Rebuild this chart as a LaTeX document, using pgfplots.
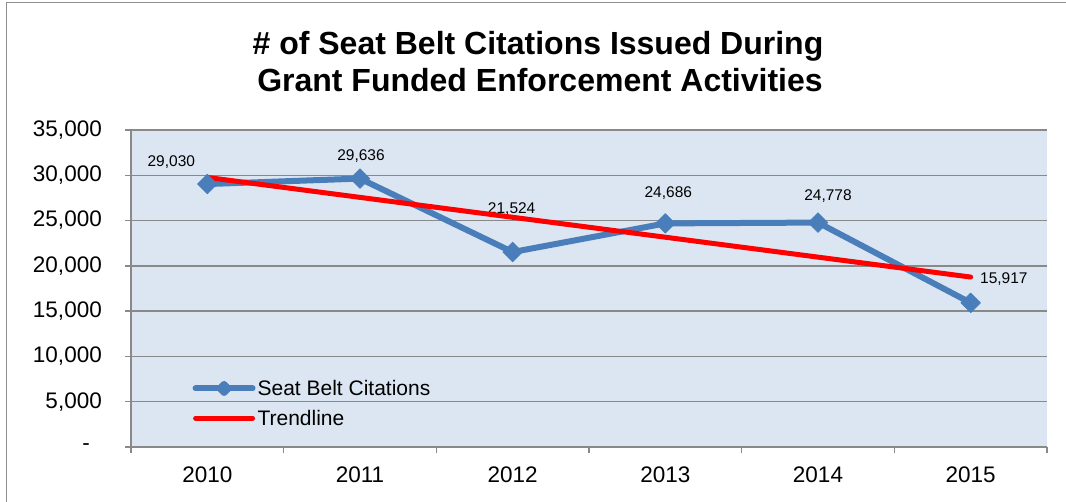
\documentclass[border=0pt]{standalone}
\usepackage{pgfplots}
\pgfplotsset{compat=1.18}
\usepackage{fontspec}
\setmainfont{Liberation Sans}

\definecolor{serblue}{HTML}{4A7EBB}
\definecolor{trendred}{HTML}{FF0000}
\definecolor{plotbg}{HTML}{DCE6F2}
\definecolor{gridgray}{HTML}{898989}
\definecolor{framegray}{HTML}{8E8E8E}

\begin{document}
\begin{tikzpicture}[x=1pt,y=1pt]
\useasboundingbox (0,0) rectangle (1066,502);
\fill[white] (0,0) rectangle (1066,502);
\draw[framegray, line width=1.5pt] (6.5,-10) -- (6.5,499.5) -- (1080,499.5);

% title
\node[anchor=base, inner sep=0pt, font=\fontsize{32}{36}\selectfont\bfseries] at (538,447)
  {\# of Seat Belt Citations Issued During};
\node[anchor=base, inner sep=0pt, font=\fontsize{32}{36}\selectfont\bfseries] at (540,410)
  {Grant Funded Enforcement Activities};

\begin{axis}[
    at={(131pt,55pt)}, anchor=south west,
    width=916pt, height=317pt, scale only axis,
    xmin=-0.5, xmax=5.5,
    ymin=0, ymax=35000,
    clip=false,
    scaled y ticks=false,
    axis x line*=bottom, axis y line*=left,
    axis line style={gridgray, line width=1.5pt},
    axis background/.style={fill=plotbg},
    ymajorgrids,
    major grid style={gridgray, line width=1.5pt},
    ytick={0,5000,10000,15000,20000,25000,30000,35000},
    yticklabels={{-\hspace*{12pt}},{5,000},{10,000},{15,000},{20,000},{25,000},{30,000},{35,000}},
    xtick={0,1,2,3,4,5},
    xticklabels={2010,2011,2012,2013,2014,2015},
    minor xtick={-0.5,0.5,1.5,2.5,3.5,4.5,5.5},
    tick align=outside,
    major tick length=6pt, minor tick length=6pt,
    every major x tick/.append style={draw=none},
    tick style={gridgray, line width=1.5pt},
    yticklabel style={anchor=east, inner sep=0pt, xshift=-23pt},
    xticklabel style={anchor=north, inner sep=0pt, yshift=-14pt},
    tick label style={font=\fontsize{22.5}{27}\selectfont, text=black},
    legend style={at={(rel axis cs:0.067,0.218)}, anchor=north west,
        draw=none, fill=none, inner sep=0pt, row sep=9pt,
        font=\fontsize{21}{25}\selectfont},
    legend cell align=left,
]

\addplot[serblue, line width=6pt, line join=round,
    mark=square*, mark size=7pt,
    mark options={solid, rotate=45, fill=serblue, draw=serblue, line width=0.5pt},
    legend image code/.code={
        \draw[serblue, line width=6pt, line cap=round] (0pt,0pt) -- (57pt,0pt);
        \fill[serblue, rotate=45] (20.15pt,-20.15pt) ++(-3.2pt,-3.2pt) rectangle ++(6.4pt,6.4pt);
    }]
coordinates {
    (0,29030) (1,29636) (2,21524) (3,24686) (4,24778) (5,15917)
};
\addlegendentry{Seat Belt Citations}

\node[font=\fontsize{15.5}{18}\selectfont, xshift=-36pt, yshift=22pt] at (axis cs:0,29030) {29,030};
\node[font=\fontsize{15.5}{18}\selectfont, xshift=1pt, yshift=22pt] at (axis cs:1,29636) {29,636};
\node[font=\fontsize{15.5}{18}\selectfont, xshift=-1pt, yshift=43pt] at (axis cs:2,21524) {21,524};
\node[font=\fontsize{15.5}{18}\selectfont, xshift=3pt, yshift=30pt] at (axis cs:3,24686) {24,686};
\node[font=\fontsize{15.5}{18}\selectfont, xshift=10pt, yshift=26pt] at (axis cs:4,24778) {24,778};
\node[font=\fontsize{15.5}{18}\selectfont, anchor=west, xshift=6pt, yshift=-2pt] at (axis cs:5,18764) {15,917};

\addplot[trendred, line width=5pt, line cap=round,
    legend image code/.code={
        \draw[trendred, line width=5pt, line cap=round] (0pt,0pt) -- (57pt,0pt);
    }]
coordinates {(0,29760) (5,18764)};
\addlegendentry{Trendline}

\end{axis}
\end{tikzpicture}
\end{document}
